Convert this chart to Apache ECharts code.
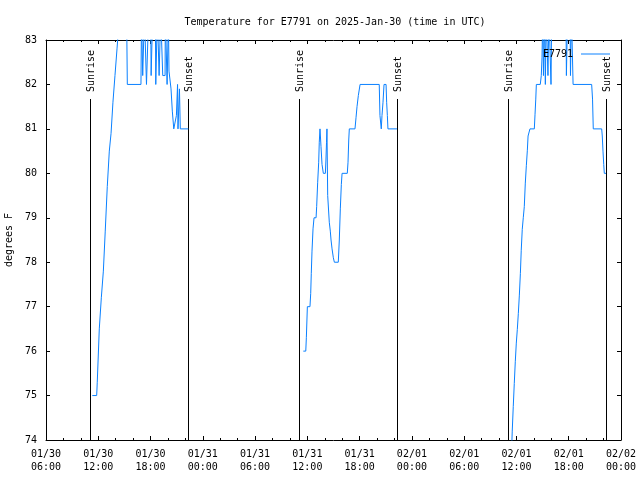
<!DOCTYPE html>
<html>
<head>
<meta charset="utf-8">
<script src="https://cdn.jsdelivr.net/npm/echarts@6/dist/echarts.min.js"></script>
<style>html,body{margin:0;padding:0;background:#fff}#c{width:640px;height:480px}</style>
</head>
<body>
<div id="c"></div>
<script>
// ---- data ----
const titleText = 'Temperature for E7791 on 2025-Jan-30 (time in UTC)';
const seriesName = 'E7791';
const yAxisName = 'degrees F';
const dayDates = ['2025-01-30', '2025-01-31', '2025-02-01'];

const times1 = ['11:19','11:49','11:53','12:07','12:21','12:35','12:48','13:02','13:16','13:28','13:41','13:55','14:09','14:23','14:43','15:14','15:20','16:54','16:58','17:03','17:06','17:15','17:18','17:29','17:32','17:45','17:47','18:01','18:04','18:12','18:15','18:33','18:36','18:45','18:47','18:56','18:59','19:07','19:10','19:21','19:24','19:40','19:42','19:51','19:54','20:00','20:03','20:07','20:21','20:30','20:40','20:53','20:58','21:06','21:09','21:19','21:25','22:20'];
const temps1 = [75.0,75.0,75.3,76.5,77.2,77.8,78.7,79.7,80.5,80.9,81.6,82.2,82.8,83.4,84.0,84.0,82.0,82.0,83.6,83.6,82.2,82.2,83.6,83.6,82.0,82.0,83.6,83.6,82.2,82.2,83.6,83.6,82.0,82.0,83.6,83.6,82.2,82.2,83.6,83.6,82.2,82.2,83.6,83.6,82.0,82.0,83.5,82.3,81.9,81.4,81.0,81.0,81.3,82.0,81.0,81.9,81.0,81.0];

const times2 = ['11:32','11:49','11:53','12:00','12:18','12:23','12:27','12:32','12:39','12:46','13:00','13:04','13:11','13:18','13:22','13:27','13:34','13:41','13:50','14:04','14:08','14:12','14:15','14:20','14:31','14:38','14:43','14:50','14:59','15:06','15:33','15:40','15:47','15:54','15:59','16:35','16:40','16:45','16:49','17:28','17:35','17:42','17:51','18:03','20:15','20:20','20:29','20:34','20:41','20:48','21:02','21:06','21:11','21:15','22:17'];
const temps2 = [76.0,76.0,76.3,77.0,77.0,77.3,77.75,78.25,78.75,79.0,79.0,79.25,79.8,80.25,80.7,81.0,80.6,80.2,80.0,80.0,80.3,80.7,81.0,79.5,78.9,78.7,78.5,78.3,78.1,78.0,78.0,78.5,79.2,79.75,80.0,80.0,80.25,80.75,81.0,81.0,81.25,81.5,81.75,82.0,82.0,81.3,81.0,81.3,81.6,82.0,82.0,81.6,81.3,81.0,81.0];

const times3 = ['11:25','11:31','11:38','11:45','11:52','11:59','12:06','12:13','12:20','12:27','12:33','12:40','12:47','12:54','13:01','13:08','13:15','13:20','13:33','14:03','14:08','14:13','14:17','14:44','14:51','14:56','15:01','15:06','15:13','15:19','15:25','15:34','15:37','15:44','15:55','15:58','16:03','17:41','17:44','17:52','18:09','18:12','18:19','18:26','18:30','20:38','20:44','20:49','21:47','21:51','21:56','22:01','22:05','22:17'];
const temps3 = [73.6,74.2,74.75,75.27,75.76,76.18,76.49,76.85,77.26,77.75,78.27,78.74,79.0,79.25,79.78,80.17,80.52,80.84,81.0,81.0,81.33,81.67,82.0,82.0,82.2,82.6,83.6,82.2,83.6,82.0,83.6,83.6,82.2,83.6,83.6,82.0,83.6,83.6,82.2,83.6,83.6,82.2,83.6,83.6,82.0,82.0,81.67,81.0,81.0,80.84,80.5,80.2,80.0,80.0];

const sunTimes = ['2025-01-30 11:05','2025-01-30 22:20','2025-01-31 11:05','2025-01-31 22:17','2025-02-01 11:04','2025-02-01 22:17'];
const sunLabels = ['Sunrise','Sunset','Sunrise','Sunset','Sunrise','Sunset'];

const xStart = '2025-01-30 06:00';
const xEnd = '2025-02-02 00:00';
const yMin = 74, yMax = 83, yStep = 1;
const xStepHours = 6;

// ---- build ----
function toMs(s) { return Date.parse(s.replace(' ', 'T') + ':00Z'); }
function dayData(date, times, temps) { return times.map((t, i) => [toMs(date + ' ' + t), temps[i]]); }
const pad = n => (n < 10 ? '0' : '') + n;
const FONT = '"DejaVu Sans Mono", "Liberation Mono", monospace';
const LINE_COLOR = '#0a80ff';

const chart = echarts.init(document.getElementById('c'), null, { renderer: 'canvas' });
const xMin = toMs(xStart), xMax = toMs(xEnd), xInt = xStepHours * 3600 * 1000;

const xCommon = {
  type: 'value', min: xMin, max: xMax, interval: xInt,
  axisLine: { show: true, lineStyle: { color: '#000', width: 1 } },
  axisTick: { show: true, inside: true, length: 4, lineStyle: { color: '#000' } },
  minorTick: { show: true, splitNumber: 3, length: 2, lineStyle: { color: '#000' } },
  splitLine: { show: false }, minorSplitLine: { show: false }
};
const yCommon = {
  type: 'value', min: yMin, max: yMax, interval: yStep,
  axisLine: { show: true, lineStyle: { color: '#000', width: 1 } },
  axisTick: { show: true, inside: true, length: 4, lineStyle: { color: '#000' } },
  splitLine: { show: false }
};

const lineSeries = [[times1, temps1], [times2, temps2], [times3, temps3]].map((d, i) => ({
  type: 'line', name: seriesName, data: dayData(dayDates[i], d[0], d[1]),
  showSymbol: false, symbol: 'none', clip: true,
  lineStyle: { color: LINE_COLOR, width: 1 }, itemStyle: { color: LINE_COLOR },
  z: 3
}));

chart.setOption({
  animation: false,
  backgroundColor: '#fff',
  title: {
    text: titleText, left: 330, top: 12, textAlign: 'center',
    textStyle: { fontFamily: FONT, fontSize: 10, fontWeight: 'normal', color: '#000' }
  },
  legend: {
    data: [{ name: seriesName, icon: 'rect' }], right: 25, top: 44, align: 'right',
    itemWidth: 29, itemHeight: 1, selectedMode: false,
    textStyle: { fontFamily: FONT, fontSize: 10, color: '#000', padding: [0, 3, 0, 0] }
  },
  grid: { left: 46, right: 19, top: 40, bottom: 40, containLabel: false, outerBoundsMode: 'none' },
  xAxis: [
    Object.assign({}, xCommon, {
      position: 'bottom',
      axisLabel: {
        show: true, margin: 8, fontFamily: FONT, fontSize: 10, color: '#000', lineHeight: 13,
        formatter: v => { const d = new Date(v); return pad(d.getUTCMonth() + 1) + '/' + pad(d.getUTCDate()) + '\n' + pad(d.getUTCHours()) + ':' + pad(d.getUTCMinutes()); }
      }
    }),
    Object.assign({}, xCommon, { position: 'top', axisLabel: { show: false } })
  ],
  yAxis: [
    Object.assign({}, yCommon, {
      position: 'left', name: yAxisName, nameLocation: 'middle', nameGap: 29,
      nameTextStyle: { fontFamily: FONT, fontSize: 10, color: '#000' },
      axisLabel: { show: true, margin: 9, fontFamily: FONT, fontSize: 10, color: '#000' }
    }),
    Object.assign({}, yCommon, { position: 'right', axisLabel: { show: false } })
  ],
  series: lineSeries.concat([{
    type: 'custom', name: 'sun', silent: true, z: 2,
    data: sunTimes.map(t => [toMs(t), yMin]),
    encode: { x: 0, y: 1 },
    renderItem: (params, api) => {
      const p = api.coord([api.value(0), yMin]);
      const cs = params.coordSys;
      const x = Math.round(p[0]) + 0.5;
      const bottom = cs.y + cs.height;
      const top = cs.y + cs.height * (1 - 0.8525);
      return {
        type: 'group', children: [
          { type: 'line', shape: { x1: x, y1: bottom, x2: x, y2: top }, style: { stroke: '#000', lineWidth: 1 } },
          { type: 'text', x: x + 1, y: cs.y + 52, rotation: Math.PI / 2,
            style: { text: sunLabels[params.dataIndex], fill: '#000', font: '10px ' + FONT, align: 'left', verticalAlign: 'middle' } }
        ]
      };
    }
  }])
});
</script>
</body>
</html>
